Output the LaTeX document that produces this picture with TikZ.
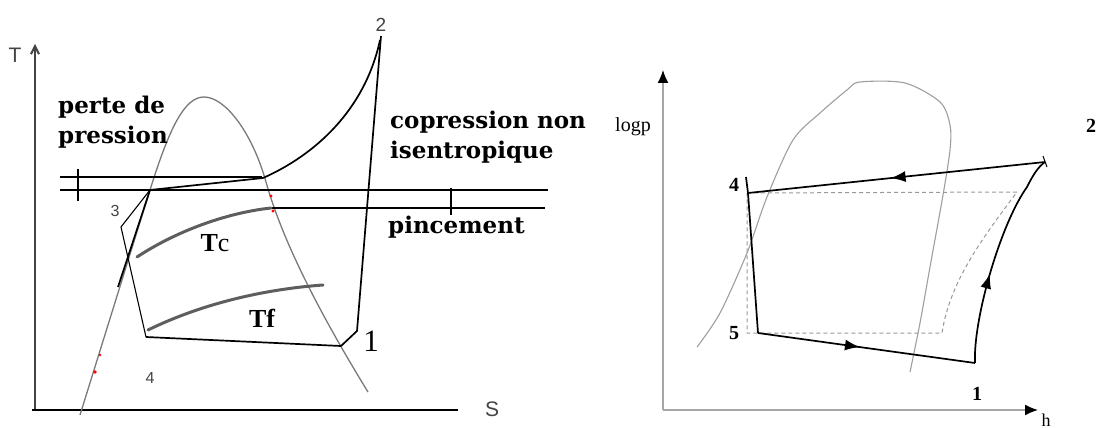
\documentclass[tikz,border=0pt]{standalone}
\usepackage{fontspec}
\setmainfont{Liberation Serif}
\newfontfamily\lblfont{DejaVu Serif}
\newfontfamily\axfont{Liberation Sans}
\usetikzlibrary{arrows.meta,decorations.markings}
\definecolor{domegray}{HTML}{7A7A7A}
\definecolor{curvegray}{HTML}{5E5E5E}
\definecolor{axgray}{HTML}{444444}
\begin{document}
\begin{tikzpicture}[x=1pt,y=-1pt,
  cyc/.style={black,line width=1.7pt,line join=round},
  cycthin/.style={black,line width=1.1pt,line join=round},
  ref/.style={black,line width=1.1pt},
  dome/.style={domegray,line width=1.3pt},
  tcurve/.style={curvegray,line width=3pt,line cap=round},
  rdome/.style={gray!75,line width=1.1pt},
  rdash/.style={gray!80,line width=1pt,dash pattern=on 4pt off 3pt},
  raxis/.style={gray!70,line width=1.4pt},
  bigtxt/.style={font=\lblfont\bfseries\fontsize{23}{30}\selectfont,inner sep=0pt,align=left},
  smallsans/.style={font=\axfont\fontsize{17}{17}\selectfont,text=axgray,inner sep=0pt},
  rlab/.style={font=\fontsize{20}{20}\selectfont\bfseries,inner sep=0pt},
  redpt/.style={fill=red,draw=none},
  midarrow/.style={decoration={markings,mark=at position #1 with {\arrow{Latex[length=15pt,width=11pt]}}},postaction={decorate}}
]
\useasboundingbox (0,0) rectangle (1096,428);
\fill[white] (0,0) rectangle (1096,428);

% ================= LEFT: T-S diagram =================
\coordinate (Sorig) at (35,410);
\coordinate (Ttop) at (35,44);
\coordinate (Sleft) at (32,410);
\coordinate (Sright) at (458,410);
\draw[axgray,line width=1.6pt,-{Straight Barb[length=8pt,width=8pt,line width=2pt]}] (Sorig) -- (Ttop);
\draw[black,line width=2.4pt] (Sleft) -- (Sright);

% saturation dome
\coordinate (Dbot) at (80,415);
\coordinate (Dleft) at (150,190);
\coordinate (Dtop) at (204,97);
\coordinate (Dright) at (266,182);
\coordinate (Dend) at (368,392);
\draw[dome] (Dbot) -- (Dleft) .. controls (170,126) and (185,97) .. (Dtop)
  .. controls (225,97) and (252,132) .. (Dright)
  .. controls (285,250) and (330,330) .. (Dend);

% reference pressure lines
\coordinate (HaL) at (60,177);
\coordinate (HaR) at (262,177);
\coordinate (HbL) at (60,190);
\coordinate (HbR) at (548,190);
\coordinate (HcL) at (272,208);
\coordinate (HcR) at (545,208);
\draw[ref] (HaL) -- (HaR);
\draw[ref] (HbL) -- (HbR);
\draw[ref] (HcL) -- (HcR);
\coordinate (tk1a) at (78,169);
\coordinate (tk1b) at (78,201);
\coordinate (tk2a) at (451,188);
\coordinate (tk2b) at (451,215);
\draw[ref] (tk1a) -- (tk1b);
\draw[ref] (tk2a) -- (tk2b);

% cycle points
\coordinate (Pj) at (150,190);
\coordinate (Pc) at (263,178);
\coordinate (P2) at (380,40);
\coordinate (P2b) at (381,36);
\coordinate (Pk) at (357,331);
\coordinate (P1) at (341,346);
\coordinate (P3) at (121,227);
\coordinate (P4) at (146,337);
\coordinate (Psub) at (118,287);

\draw[cyc] (Pj) -- (Pc);
\draw[cyc] (Pc) .. controls (315,155) and (365,110) .. (P2);
\draw[cyc] (P2b) -- (Pk) -- (P1);
\draw[cyc] (P4) -- (P1);
\draw[cycthin] (Pj) -- (P3) -- (P4);
\draw[cyc] (Pj) -- (Psub);

% Tc and Tf curves
\draw[tcurve] (137,257) .. controls (175,232) and (225,213) .. (271,208);
\draw[tcurve] (148,330) .. controls (195,307) and (255,290) .. (323,285);

% red dots
\fill[redpt] (271,196) circle (1.6pt);
\fill[redpt] (273,211) circle (1.6pt);
\fill[redpt] (95,372) circle (1.8pt);
\fill[redpt] (100,355) circle (1.3pt);

% labels
\node[smallsans,font=\axfont\fontsize{21}{21}\selectfont] (labT) at (15,55) {T};
\node[smallsans,font=\axfont\fontsize{21}{21}\selectfont] (labS) at (492,409) {S};
\node[smallsans,font=\axfont\fontsize{19}{19}\selectfont] (lab2) at (381,25) {2};
\node[smallsans,font=\axfont\fontsize{16}{16}\selectfont] (lab3) at (115,211) {3};
\node[smallsans,font=\axfont\fontsize{16}{16}\selectfont] (lab4) at (150,378) {4};
\node[font=\fontsize{31}{31}\selectfont,inner sep=0pt] (lab1) at (371,341) {1};
\node[font=\fontsize{26}{26}\selectfont,inner sep=0pt] (labTc) at (215,243) {\textbf{T}c};
\node[font=\fontsize{26}{26}\selectfont\bfseries,inner sep=0pt] (labTf) at (262,318) {Tf};
\node[bigtxt,anchor=north west] (perte) at (58,96) {perte de\\pression};
\node[bigtxt,anchor=north west] (copr) at (390,111) {copression non\\isentropique};
\node[bigtxt,anchor=west] (pinc) at (388,227) {pincement};

% ================= RIGHT: log p - h diagram =================
\coordinate (O) at (663,410);
\coordinate (Ytop) at (663,70);
\coordinate (Xend) at (1038,410);
\draw[raxis,-{Latex[length=13pt,width=11pt,black]}] (O) -- (Ytop);
\draw[raxis,-{Latex[length=13pt,width=11pt,black]}] (O) -- (Xend);

% dome
\draw[rdome] plot[smooth,tension=0.5] coordinates {(697,347) (720,313) (747,253) (767,197) (793,140) (820,113) (847,90) (860,82) (905,83) (940,102) (950,125) (950,150) (943,195) (930,267) (920,323) (910,372)};

% dashed ideal cycle
\coordinate (D4) at (747,193);
\coordinate (D2) at (1017,192);
\coordinate (D1) at (942,333);
\coordinate (D5) at (747,333);
\draw[rdash] (D4) -- (D2) .. controls (985,235) and (950,280) .. (D1) -- (D5) -- (D4);

% real cycle
\coordinate (R2) at (1045,162);
\coordinate (R4t) at (746,177);
\coordinate (R4) at (748,193);
\coordinate (R5) at (758,333);
\coordinate (R1) at (975,363);
\draw[cyc,midarrow=0.52] (R2) -- (R4);
\draw[cyc] (R4t) -- (R4) -- (R5);
\draw[cyc,midarrow=0.47] (R5) -- (R1);
\draw[cyc,midarrow=0.42] (R1) .. controls (973,320) and (1000,225) .. (1027,187) .. controls (1033,175) and (1038,167) .. (R2);
\draw[black,line width=1pt] (1043,156) -- (1047,167);

% labels
\node[font=\fontsize{20}{20}\selectfont,inner sep=0pt] (logp) at (633,127) {logp};
\node[rlab] (r2) at (1091,126) {2};
\node[rlab] (r4) at (734,185) {4};
\node[rlab] (r5) at (734,333) {5};
\node[rlab] (r1) at (977,394) {1};
\node[font=\fontsize{18}{18}\selectfont,inner sep=0pt] (rh) at (1046,420) {h};
\end{tikzpicture}
\end{document}
